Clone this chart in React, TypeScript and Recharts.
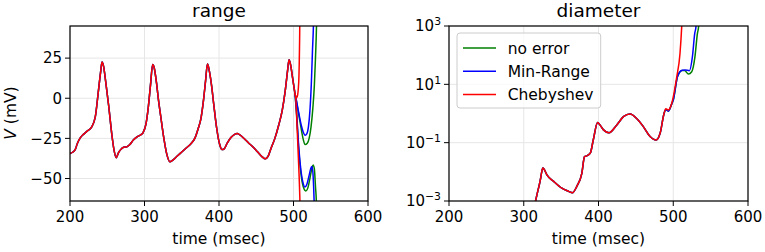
import React from 'react';
import { LineChart, Line, XAxis, YAxis, CartesianGrid } from 'recharts';

// time axis shared by both panels
const timeTicks = [200, 300, 400, 500, 600];
const voltTicks = [-50, -25, 0, 25];
const diamTicks = [0.001, 0.1, 10, 1000];
const diamExp = ['\u22123', '\u22121', '1', '3'];

// range panel: common trace (all three methods overlap up to ~502 ms)
const rangeTime = [200, 204, 207, 210, 214, 218, 223, 229, 234, 238, 241, 243, 245, 248, 252, 256, 259, 262, 265, 268, 272, 276, 280, 285, 290, 295, 298, 302, 305, 308, 311, 313, 316, 319, 322, 326, 330, 334, 338, 344, 350, 356, 362, 368, 372, 376, 379, 382, 384.5, 387, 390, 393, 397, 401, 404, 407, 411, 416, 421, 424.5, 428, 434, 440, 446, 452, 458, 462, 466, 470, 475, 480, 485, 489, 492, 494, 496, 499, 502];
const rangeVolt = [-34.4, -33.5, -32, -28, -24.5, -22.5, -20.5, -18, -11.5, 4, 16, 22.5, 20, 10, -5, -22, -32, -37, -34, -32, -30.5, -30.3, -29, -26, -24, -22.8, -21.5, -16, -6, 8, 21, 19, 10, -2, -12, -25, -35, -39.6, -38.5, -36, -33.5, -31, -28.5, -24.5, -19, -12, -2, 11, 21.3, 17, 8, -4, -19, -29, -32, -31.5, -28, -24.5, -22.5, -22, -22.8, -25.2, -28, -30.5, -33.5, -36.5, -37.7, -36, -31, -25, -17, -7.3, 5, 17, 24, 21, 12, 3];

// branches after divergence
const redUpT = [503.5, 505, 507, 508.3, 509.5];
const redUpV = [0.3, 1, 10, 40, 100];
const redLowT = [502, 503, 505, 507, 508.5, 510];
const redLowV = [3, 0, -20, -42, -62, -100];
const blueUpT = [504, 507, 510.5, 513, 515.6, 518, 520, 522, 524, 525.5, 527, 528.5];
const blueUpV = [-1.5, -9, -17, -21, -23, -22, -18, -8, 10, 30, 50, 100];
const greenUpT = [504, 507, 510.7, 513, 515.6, 518.5, 521, 523.5, 526, 528, 529.5, 531, 532.5];
const greenUpV = [-2, -10, -20, -25.5, -28.8, -28, -25, -18, -6, 8, 25, 48, 100];
const blueLowT = [502, 504, 507, 510, 513, 515.3, 518, 521, 523, 524.5, 525.8, 527, 528, 529];
const blueLowV = [3, -8, -30, -45, -53, -55.3, -53.5, -48, -44, -42.5, -45, -55, -70, -100];
const greenLowT = [502, 504, 507, 510, 513, 516.5, 519.5, 522, 524.5, 526.3, 528, 529.5, 530.8, 532];
const greenLowV = [3, -9, -32, -47, -55, -57.7, -55.5, -50, -44, -41.5, -44, -55, -66, -100];

// diameter panel: common trace
const diamTime = [314, 318, 322, 324.5, 325.6, 327, 331, 340, 351, 360, 365, 371, 377.7, 381.3, 384.4, 389, 393, 398.8, 401, 406.7, 414, 424.5, 433.4, 442.3, 451, 460, 469, 477, 482.4, 487.7];
const diamVal = [0.00063, 0.00178, 0.005, 0.0112, 0.0135, 0.0126, 0.0079, 0.0047, 0.00275, 0.00214, 0.0019, 0.00316, 0.0089, 0.033, 0.0355, 0.0437, 0.123, 0.49, 0.436, 0.275, 0.219, 0.407, 0.776, 0.955, 0.676, 0.355, 0.162, 0.123, 0.209, 1.0];

const redDiamT = [490, 493.5, 498, 504.7, 509, 511.3, 513];
const redDiamV = [1.45, 1.32, 2.24, 18.2, 112, 933, 10000];
const blueDiamT = [490, 493.5, 498, 500, 505.6, 509, 512, 515.8, 521.6, 525.6, 528.7, 530.5, 532];
const blueDiamV = [1.38, 1.2, 2.14, 2.88, 18.2, 26.9, 30.2, 30.9, 29.5, 87, 550, 1000, 10000];
const greenDiamT = [490, 493.5, 498, 500, 505.6, 509, 512, 515.5, 520.3, 524.7, 529, 532.3, 534, 536];
const greenDiamV = [1.38, 1.2, 2.14, 2.88, 18.2, 26.9, 30, 29.5, 22.4, 26.9, 87, 550, 1000, 10000];

const pts = (t: number[], v: number[]) => t.map((x, i) => ({ t: x, v: v[i] }));

const rangeCommon = pts(rangeTime, rangeVolt);
const diamCommon = pts(diamTime, diamVal);

const FONT = 'DejaVu Sans';
const TICK = 15;
const GREEN = '#008000';
const BLUE = '#0000ff';
const RED = '#ff0000';

const fmtMinus = (v: number) => (v < 0 ? `\u2212${-v}` : `${v}`);

const LogTick = (props: any) => {
  const { x, y, payload } = props;
  const i = diamTicks.indexOf(payload.value);
  return (
    <text x={x} y={y} textAnchor="end" fontFamily={FONT} fontSize={TICK} fill="#000">
      <tspan dy="0.36em">10</tspan>
      <tspan dy="-0.55em" fontSize={10.8}>{diamExp[i]}</tspan>
    </text>
  );
};

const lineProps = {
  type: 'monotone' as const,
  dataKey: 'v',
  dot: false,
  strokeWidth: 1.5,
  isAnimationActive: false,
};

const legendItems = [
  { name: 'no error', color: GREEN },
  { name: 'Min-Range', color: BLUE },
  { name: 'Chebyshev', color: RED },
];

export default function App() {
  return (
    <div style={{ position: 'fixed', left: 0, top: 0, width: 765, height: 252, background: '#fff' }}>
      <div style={{ position: 'absolute', left: 0, top: 0 }}>
        <LineChart width={394} height={252} margin={{ top: 26, right: 26, left: 0, bottom: 0 }}>
          <CartesianGrid stroke="#e6e6e6" strokeWidth={1} />
          <XAxis
            dataKey="t"
            type="number"
            domain={[200, 600]}
            ticks={timeTicks}
            allowDataOverflow
            height={51}
            axisLine={false}
            tickSize={5}
            tickMargin={5}
            tickLine={{ stroke: '#000' }}
            tick={{ fill: '#000', fontFamily: FONT, fontSize: TICK }}
          />
          <YAxis
            type="number"
            domain={[-64, 45]}
            ticks={voltTicks}
            allowDataOverflow
            width={70}
            axisLine={false}
            tickSize={5}
            tickMargin={3}
            tickLine={{ stroke: '#000' }}
            tickFormatter={fmtMinus}
            tick={{ fill: '#000', fontFamily: FONT, fontSize: TICK }}
          />
          <Line {...lineProps} data={[...rangeCommon, ...pts(greenUpT, greenUpV)]} stroke={GREEN} />
          <Line {...lineProps} data={pts(greenLowT, greenLowV)} stroke={GREEN} />
          <Line {...lineProps} data={[...rangeCommon, ...pts(blueUpT, blueUpV)]} stroke={BLUE} />
          <Line {...lineProps} data={pts(blueLowT, blueLowV)} stroke={BLUE} />
          <Line {...lineProps} data={[...rangeCommon, ...pts(redUpT, redUpV)]} stroke={RED} />
          <Line {...lineProps} data={pts(redLowT, redLowV)} stroke={RED} />
        </LineChart>
      </div>
      <div style={{ position: 'absolute', left: 380, top: 0 }}>
        <LineChart width={385} height={252} margin={{ top: 26, right: 17, left: 0, bottom: 0 }}>
          <CartesianGrid stroke="#e6e6e6" strokeWidth={1} />
          <XAxis
            dataKey="t"
            type="number"
            domain={[200, 600]}
            ticks={timeTicks}
            allowDataOverflow
            height={51}
            axisLine={false}
            tickSize={5}
            tickMargin={5}
            tickLine={{ stroke: '#000' }}
            tick={{ fill: '#000', fontFamily: FONT, fontSize: TICK }}
          />
          <YAxis
            type="number"
            scale="log"
            domain={[0.001, 1000]}
            ticks={diamTicks}
            allowDataOverflow
            width={69}
            axisLine={false}
            tickSize={5}
            tickMargin={3}
            tickLine={{ stroke: '#000' }}
            tick={<LogTick />}
          />
          <Line {...lineProps} data={[...diamCommon, ...pts(greenDiamT, greenDiamV)]} stroke={GREEN} />
          <Line {...lineProps} data={[...diamCommon, ...pts(blueDiamT, blueDiamV)]} stroke={BLUE} />
          <Line {...lineProps} data={[...diamCommon, ...pts(redDiamT, redDiamV)]} stroke={RED} />
        </LineChart>
      </div>
      <svg
        width={765}
        height={252}
        style={{ position: 'absolute', left: 0, top: 0, pointerEvents: 'none' }}
        fontFamily={FONT}
      >
        <rect x={70} y={26} width={298} height={175} fill="none" stroke="#000" strokeWidth={1.2} />
        <rect x={449} y={26} width={299} height={175} fill="none" stroke="#000" strokeWidth={1.2} />
        <text x={219} y={17} textAnchor="middle" fontSize={18.5} fill="#000">range</text>
        <text x={598.5} y={17} textAnchor="middle" fontSize={18.5} fill="#000">diameter</text>
        <text x={219} y={244} textAnchor="middle" fontSize={15.5} fill="#000">time (msec)</text>
        <text x={598.5} y={244} textAnchor="middle" fontSize={15.5} fill="#000">time (msec)</text>
        <text x={16} y={113} transform="rotate(-90 16 113)" textAnchor="middle" fontSize={15.5} fill="#000">
          <tspan fontStyle="italic">V</tspan> (mV)
        </text>
        <rect x={457} y={33} width={143.7} height={75} rx={3} fill="#fff" fillOpacity={0.8} stroke="#cccccc" />
        {legendItems.map((it, i) => {
          const cy = 48 + i * 23.2;
          return (
            <g key={it.name}>
              <line x1={463} x2={496} y1={cy} y2={cy} stroke={it.color} strokeWidth={1.5} />
              <text x={507.7} y={cy + 5.5} fontSize={15.5} fill="#000">{it.name}</text>
            </g>
          );
        })}
      </svg>
    </div>
  );
}
